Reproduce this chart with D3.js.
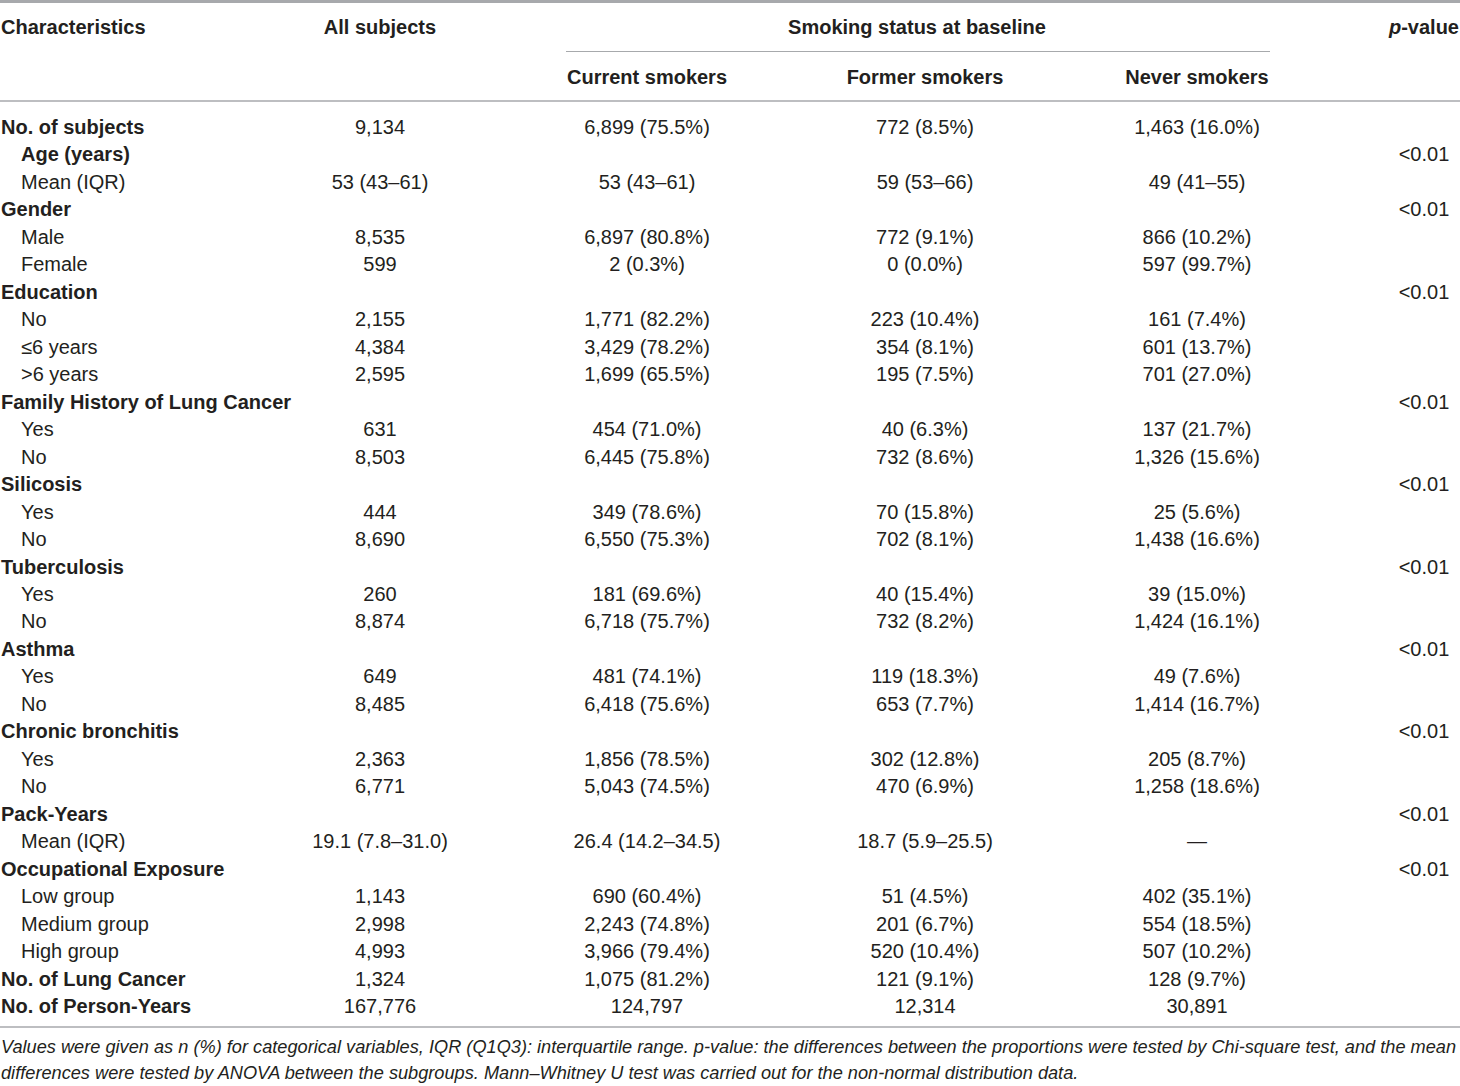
<!DOCTYPE html>
<html><head><meta charset="utf-8">
<script src="https://cdn.jsdelivr.net/npm/d3@7"></script>
<style>
body{margin:0;background:#fff;}
svg text{font-family:"Liberation Sans",Arial,Helvetica,sans-serif;fill:#231f20;}
</style></head>
<body>
<script>
const rowLabels = ["No. of subjects","Age (years)","Mean (IQR)","Gender","Male","Female","Education","No","≤6 years",">6 years","Family History of Lung Cancer","Yes","No","Silicosis","Yes","No","Tuberculosis","Yes","No","Asthma","Yes","No","Chronic bronchitis","Yes","No","Pack-Years","Mean (IQR)","Occupational Exposure","Low group","Medium group","High group","No. of Lung Cancer","No. of Person-Years"];
const rowTypes = ["head","subhead","sub","head","sub","sub","head","sub","sub","sub","head","sub","sub","head","sub","sub","head","sub","sub","head","sub","sub","head","sub","sub","head","sub","head","sub","sub","sub","head","head"];
const allSubjects = ["9,134","","53 (43–61)","","8,535","599","","2,155","4,384","2,595","","631","8,503","","444","8,690","","260","8,874","","649","8,485","","2,363","6,771","","19.1 (7.8–31.0)","","1,143","2,998","4,993","1,324","167,776"];
const currentSmokers = ["6,899 (75.5%)","","53 (43–61)","","6,897 (80.8%)","2 (0.3%)","","1,771 (82.2%)","3,429 (78.2%)","1,699 (65.5%)","","454 (71.0%)","6,445 (75.8%)","","349 (78.6%)","6,550 (75.3%)","","181 (69.6%)","6,718 (75.7%)","","481 (74.1%)","6,418 (75.6%)","","1,856 (78.5%)","5,043 (74.5%)","","26.4 (14.2–34.5)","","690 (60.4%)","2,243 (74.8%)","3,966 (79.4%)","1,075 (81.2%)","124,797"];
const formerSmokers = ["772 (8.5%)","","59 (53–66)","","772 (9.1%)","0 (0.0%)","","223 (10.4%)","354 (8.1%)","195 (7.5%)","","40 (6.3%)","732 (8.6%)","","70 (15.8%)","702 (8.1%)","","40 (15.4%)","732 (8.2%)","","119 (18.3%)","653 (7.7%)","","302 (12.8%)","470 (6.9%)","","18.7 (5.9–25.5)","","51 (4.5%)","201 (6.7%)","520 (10.4%)","121 (9.1%)","12,314"];
const neverSmokers = ["1,463 (16.0%)","","49 (41–55)","","866 (10.2%)","597 (99.7%)","","161 (7.4%)","601 (13.7%)","701 (27.0%)","","137 (21.7%)","1,326 (15.6%)","","25 (5.6%)","1,438 (16.6%)","","39 (15.0%)","1,424 (16.1%)","","49 (7.6%)","1,414 (16.7%)","","205 (8.7%)","1,258 (18.6%)","","—","","402 (35.1%)","554 (18.5%)","507 (10.2%)","128 (9.7%)","30,891"];
const pValues = ["","<0.01","","<0.01","","","<0.01","","","","<0.01","","","<0.01","","","<0.01","","","<0.01","","","<0.01","","","<0.01","","<0.01","","","","",""];
const columnHeaders = ["All subjects","Current smokers","Former smokers","Never smokers","p-value"];
const spanHeader = "Smoking status at baseline";
const firstHeader = "Characteristics";
const footnoteLines = ["Values were given as n (%) for categorical variables, IQR (Q1Q3): interquartile range. p-value: the differences between the proportions were tested by Chi-square test, and the mean",
"differences were tested by ANOVA between the subgroups. Mann–Whitney U test was carried out for the non-normal distribution data."];

const W = 1460, H = 1086;
const svg = d3.select("body").append("svg").attr("width", W).attr("height", H);

const cols = ["all","cur","for","nev","p"];
const x = d3.scaleOrdinal().domain(cols).range([380, 647, 925, 1197, 1424]);
const y = d3.scaleLinear().domain([0, rowLabels.length - 1]).range([127, 1006]);
const fs = 20;

// lines
const lineColor = "#a7a9ac";
svg.append("line").attr("x1",0).attr("x2",W).attr("y1",1.5).attr("y2",1.5).attr("stroke",lineColor).attr("stroke-width",3);
svg.append("line").attr("x1",566).attr("x2",1270).attr("y1",51.5).attr("y2",51.5).attr("stroke",lineColor).attr("stroke-width",1);
svg.append("line").attr("x1",0).attr("x2",W).attr("y1",101).attr("y2",101).attr("stroke",lineColor).attr("stroke-width",1.5);
svg.append("line").attr("x1",0).attr("x2",W).attr("y1",1027).attr("y2",1027).attr("stroke",lineColor).attr("stroke-width",1.5);

// headers
const hdr = svg.append("g").attr("font-weight","bold").attr("font-size",fs);
hdr.append("text").attr("x",1).attr("y",34).text(firstHeader);
hdr.append("text").attr("x",x("all")).attr("y",34).attr("text-anchor","middle").text(columnHeaders[0]);
hdr.append("text").attr("x",917).attr("y",34).attr("text-anchor","middle").text(spanHeader);
hdr.append("text").attr("x",x("cur")).attr("y",84).attr("text-anchor","middle").text(columnHeaders[1]);
hdr.append("text").attr("x",x("for")).attr("y",84).attr("text-anchor","middle").text(columnHeaders[2]);
hdr.append("text").attr("x",x("nev")).attr("y",84).attr("text-anchor","middle").text(columnHeaders[3]);
const pv = hdr.append("text").attr("x",1459).attr("y",34).attr("text-anchor","end");
pv.append("tspan").attr("font-style","italic").text("p");
pv.append("tspan").text("-value");

// body
const rows = svg.append("g").selectAll("g").data(rowLabels.map((l,i)=>({l,i,t:rowTypes[i]}))).join("g")
  .attr("transform", d => `translate(0,${y(d.i) + 7})`)
  .attr("font-size", fs);
rows.append("text")
  .attr("x", d => d.t === "head" ? 1 : 21)
  .attr("font-weight", d => d.t === "sub" ? "normal" : "bold")
  .text(d => d.l);
const colData = {all: allSubjects, cur: currentSmokers, for: formerSmokers, nev: neverSmokers, p: pValues};
cols.forEach(c => {
  rows.append("text").attr("x", x(c)).attr("text-anchor","middle")
    .text(d => colData[c][d.i]);
});

// footnote
svg.append("g").attr("font-size",18.2).attr("font-style","italic").selectAll("text").data(footnoteLines).join("text")
  .attr("x",1).attr("y",(d,i)=>1053 + i*26).text(d=>d);
</script>
</body></html>
